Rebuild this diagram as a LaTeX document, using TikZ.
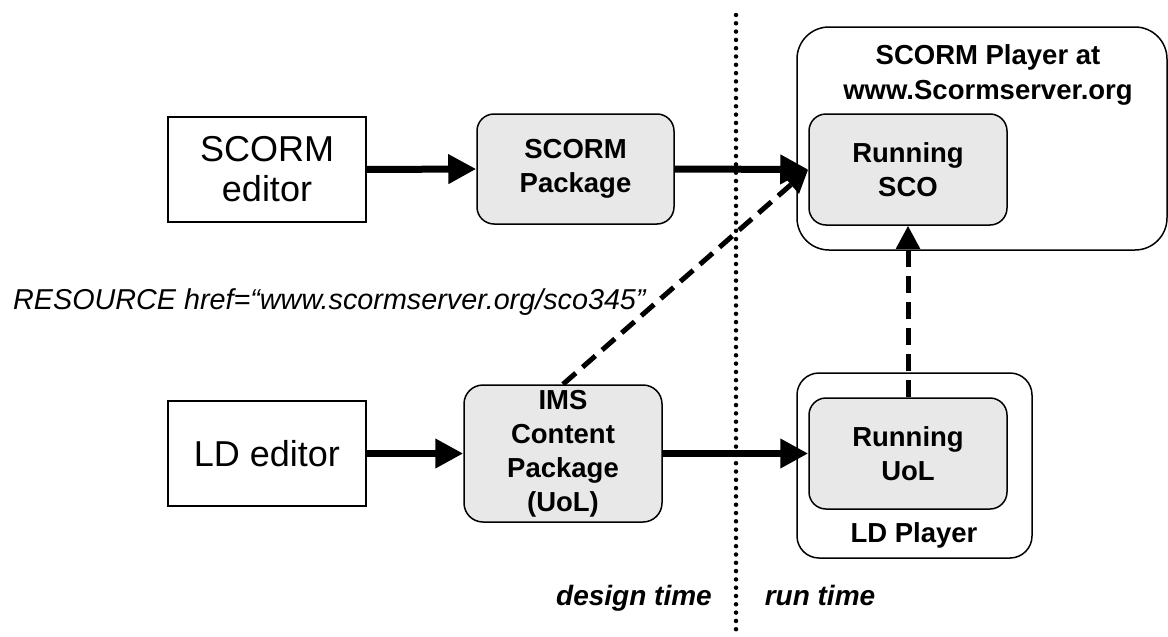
\documentclass[tikz,border=0pt]{standalone}
\usepackage{fontspec}
\setmainfont{Liberation Sans}
\usetikzlibrary{arrows.meta}
\definecolor{boxgray}{RGB}{232,232,232}
\begin{document}
\begin{tikzpicture}[x=1pt,y=-1pt,
  plainbox/.style={draw, line width=1.5pt, minimum width=198pt, minimum height=105pt,
    inner sep=0pt, align=center, font=\fontsize{36}{40}\selectfont},
  graybox/.style={draw, line width=1.5pt, fill=boxgray, rounded corners=17pt,
    inner sep=0pt, align=center, font=\bfseries\fontsize{27.5}{34}\selectfont},
  outerbox/.style={draw, line width=1.5pt, inner sep=0pt},
  boldtext/.style={inner sep=0pt, align=center, font=\bfseries\fontsize{27.5}{35}\selectfont},
  flow/.style={line width=7pt, -{Triangle[length=28pt,width=28pt]}},
  link/.style={line width=5pt, dash pattern=on 17pt off 9pt, -{Triangle[length=23pt,width=23pt]}},
  timeline/.style={line width=4.5pt, line cap=round, dash pattern=on 0pt off 8.3pt}
]
\useasboundingbox (0,0) rectangle (1168,637);

% outer containers
\node[outerbox, rounded corners=32pt, minimum width=370pt, minimum height=223pt] (scormplayer) at (982,138.5) {};
\node[outerbox, rounded corners=22pt, minimum width=235pt, minimum height=185pt] (ldplayer) at (914.5,465.5) {};

% dotted time divider
\coordinate (divtop) at (736,15);
\coordinate (divbot) at (736,637);
\draw[timeline] (divtop) -- (divbot);

% boxes
\node[plainbox] (scormed) at (267,169.5) {SCORM\\editor};
\node[plainbox] (lded) at (267,453.5) {LD editor};
\node[graybox, minimum width=197pt, minimum height=110pt] (scormpkg) at (575.5,169) {SCORM\\Package};
\node[graybox, rounded corners=19pt, minimum width=198pt, minimum height=137pt] (ims) at (563,453.5) {IMS\\Content\\Package\\(UoL)};
\node[graybox, minimum width=198pt, minimum height=111pt] (sco) at (908,169.5) {Running\\SCO};
\node[graybox, minimum width=198pt, minimum height=111pt] (uol) at (908,453.5) {Running\\UoL};

% labels
\node[boldtext] (playertitle) at (988,75.3) {SCORM Player at\\www.Scormserver.org};
\node[boldtext, anchor=base] (ldplayertitle) at (914,542) {LD Player};
\node[inner sep=0pt, anchor=base west, font=\itshape\fontsize{28.75}{34}\selectfont] (resource) at (13,309) {RESOURCE href=“www.scormserver.org/sco345”};
\node[inner sep=0pt, anchor=base, font=\bfseries\itshape\fontsize{28}{34}\selectfont] (design) at (634,605) {design time};
\node[inner sep=0pt, anchor=base, font=\bfseries\itshape\fontsize{28}{34}\selectfont] (run) at (820,605) {run time};

% connectors
\draw[flow] (scormed.east) -- (scormpkg.west);
\draw[flow] (scormpkg.east) -- (sco.west);
\draw[flow] (lded.east) -- (ims.west);
\draw[flow] (ims.east) -- (uol.west);
\draw[link] (ims.north) -- (sco.west);
\draw[link] (uol.north) -- (sco.south);
\end{tikzpicture}
\end{document}
